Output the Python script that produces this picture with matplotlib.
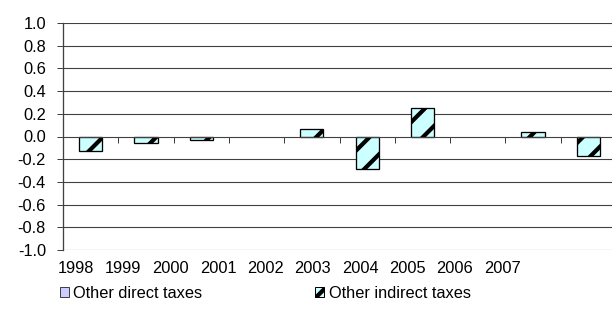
import numpy as np
import matplotlib
matplotlib.use('Agg')
import matplotlib.pyplot as plt
from matplotlib.patches import Patch

DPI = 80  # lower dpi so the '/' hatch gets the coarser stripe spacing of the source
W, H = 612, 325


def px(v):
    # pixel size -> points at this dpi
    return v * 72.0 / DPI


plt.rcParams['font.family'] = ['Liberation Sans', 'DejaVu Sans']
plt.rcParams['axes.unicode_minus'] = False
plt.rcParams['hatch.linewidth'] = px(4.2)

years = ['1998', '1999', '2000', '2001', '2002', '2003', '2004', '2005', '2006', '2007']
direct_taxes = [0, 0, 0, 0, 0, 0, 0, 0, 0, 0]
indirect_taxes = [-0.13, -0.06, -0.03, 0.0, 0.07, -0.29, 0.255, 0.0, 0.04, -0.17]
yticks = [-1.0, -0.8, -0.6, -0.4, -0.2, 0.0, 0.2, 0.4, 0.6, 0.8, 1.0]

FS = px(16.4)
grid_col = '#404040'

fig = plt.figure(figsize=(W / DPI, H / DPI), dpi=DPI)
ax = fig.add_axes([63 / W, 75 / H, 553 / W, 227 / H])

x = np.arange(len(years))
ax.bar(x - 0.42, direct_taxes, width=0.42, color='#ccccff', linewidth=0)
ax.bar(x, indirect_taxes, width=0.42, color='#ccffff', edgecolor='black',
       linewidth=[px(1.3) if v else 0 for v in indirect_taxes], hatch='/')

ax.set_xlim(-0.5, len(years) - 0.5)
ax.set_ylim(-1.0, 1.0)
ax.set_yticks(yticks)
ax.set_yticklabels(['%.1f' % v for v in yticks], fontsize=FS)
ax.tick_params(axis='y', length=px(6), width=px(1), pad=px(11), color=grid_col)
for v in yticks:
    if v != 0:
        ax.axhline(v, color=grid_col, lw=px(1.1), zorder=0)

# x axis sits on the zero line, ticks between categories
ax.spines['bottom'].set_position(('data', 0))
ax.spines['bottom'].set_color(grid_col)
ax.spines['bottom'].set_linewidth(px(1.1))
ax.spines['left'].set_color(grid_col)
ax.spines['left'].set_linewidth(px(1.3))
ax.spines['top'].set_visible(False)
ax.spines['right'].set_visible(False)
ax.set_xticks(x[:-1] + 0.5)
ax.set_xticklabels([])
ax.tick_params(axis='x', direction='out', length=px(6), width=px(1), color=grid_col)

# year labels sit on their own narrower strip, as in the source
lab = fig.add_axes([52.3 / W, (H - 261) / H, 473.4 / W, 0.0001])
lab.set_xlim(-0.5, len(years) - 0.5)
lab.set_xticks(x)
lab.set_xticklabels(years, fontsize=FS)
lab.set_yticks([])
lab.tick_params(axis='x', length=0, pad=0)
for s in lab.spines.values():
    s.set_visible(False)
lab.patch.set_alpha(0)

handles = [Patch(facecolor='#ccccff', edgecolor='#404040', linewidth=px(1)),
           Patch(facecolor='#ccffff', edgecolor='black', linewidth=px(1), hatch='/')]
fig.legend(handles, ['Other direct taxes', 'Other indirect taxes'],
           loc='center left', bbox_to_anchor=(60 / W, (H - 293) / H), ncol=2,
           frameon=False, fontsize=FS, handlelength=0.55, handleheight=0.55,
           handletextpad=0.25, columnspacing=6.9, borderpad=0, borderaxespad=0)

plt.savefig('out.png', dpi=DPI)
